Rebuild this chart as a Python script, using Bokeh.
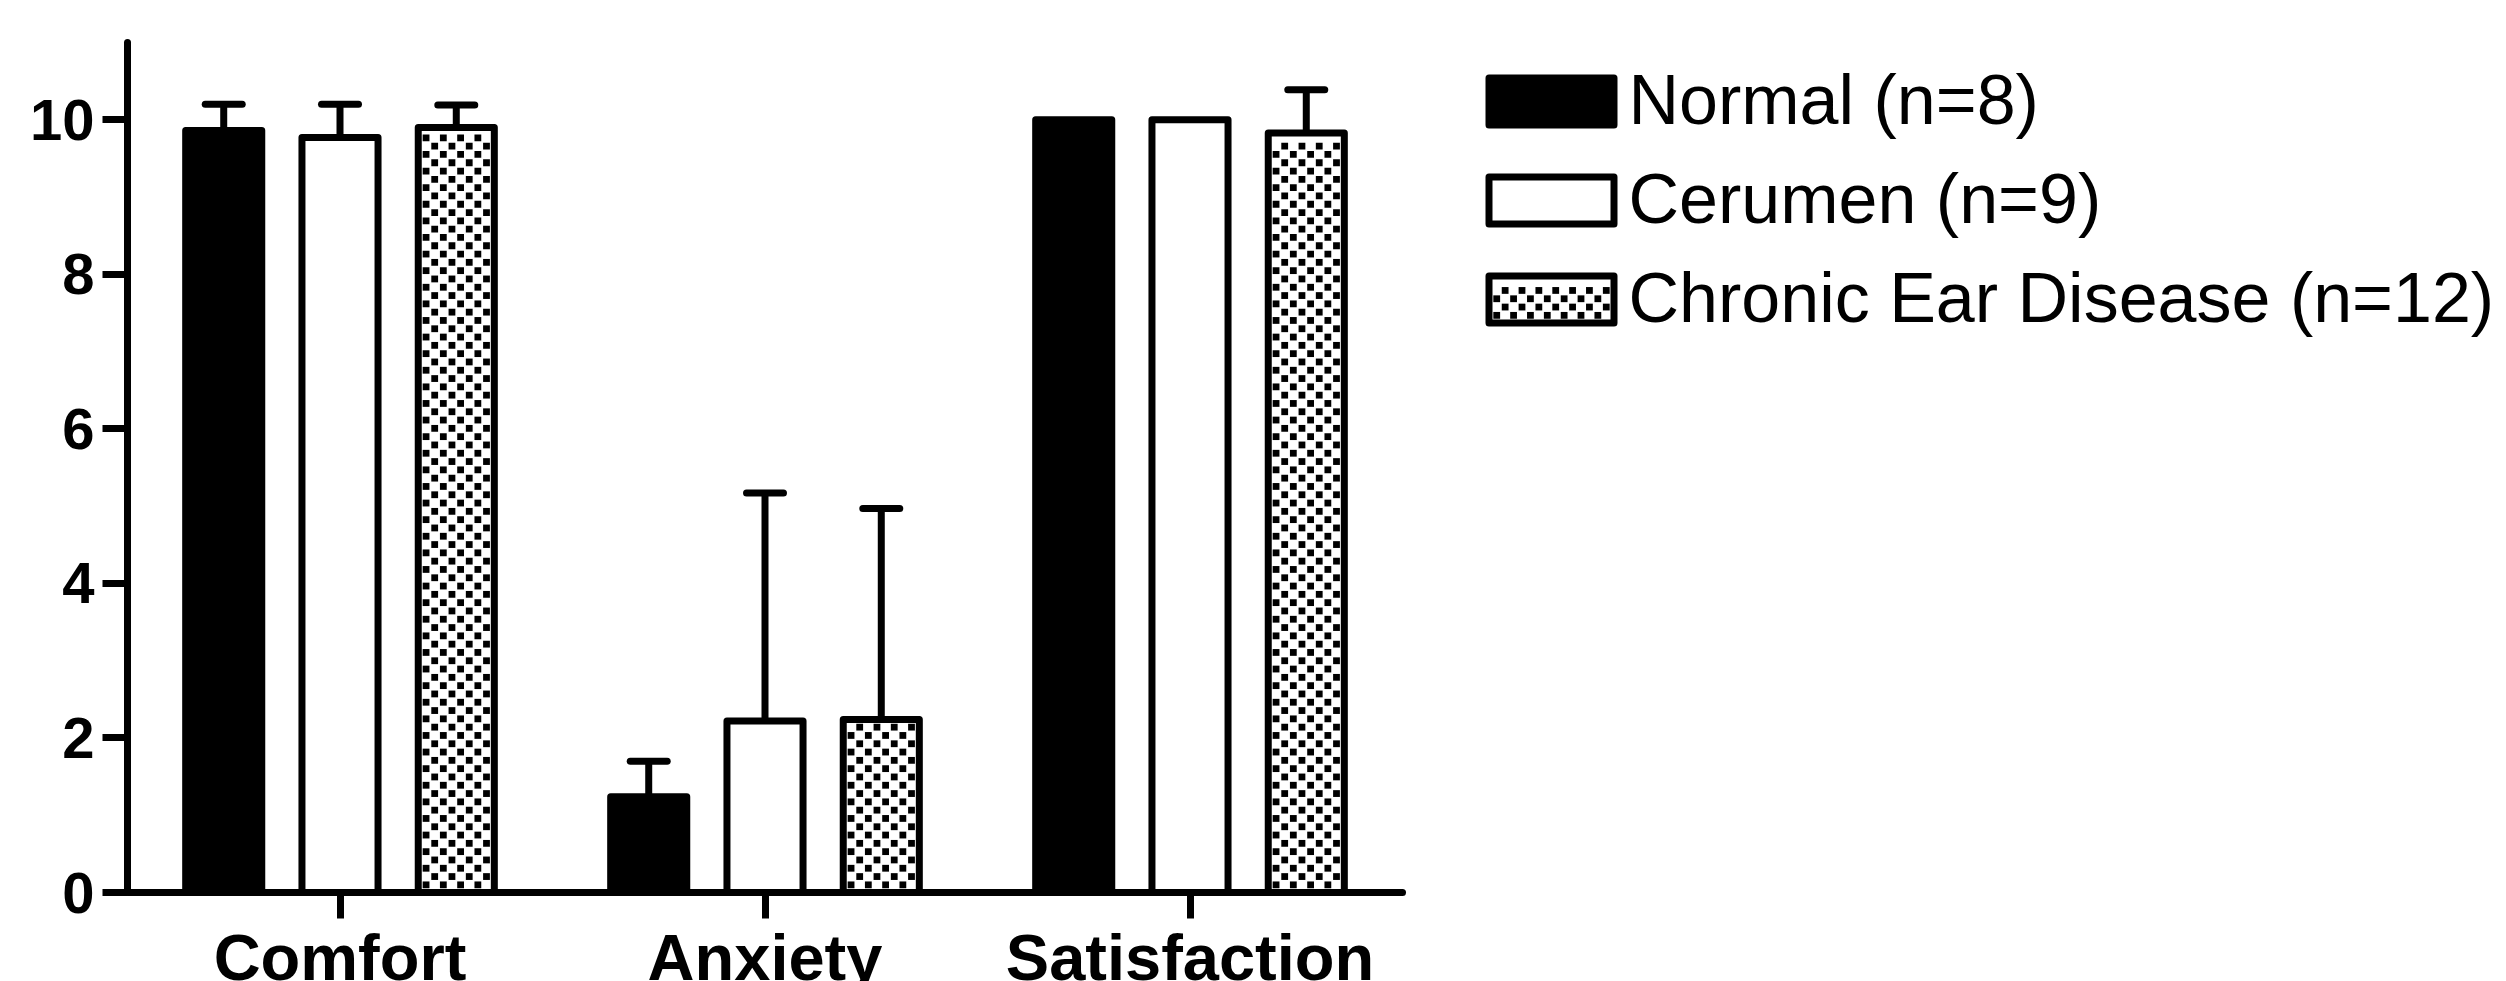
from bokeh.plotting import figure
from bokeh.models import Range1d, FixedTicker, ColumnDataSource
from bokeh.core.properties import value
from bokeh.embed import file_html
from bokeh.resources import INLINE

# ---------------- data ----------------
categories = ["Comfort", "Anxiety", "Satisfaction"]
series_names = ["Normal (n=8)", "Cerumen (n=9)", "Chronic Ear Disease (n=12)"]
normal = [9.86, 1.24, 10.0]
normal_err = [0.34, 0.46, 0.0]
cerumen = [9.77, 2.22, 10.0]
cerumen_err = [0.43, 2.95, 0.0]
chronic = [9.90, 2.24, 9.83]
chronic_err = [0.29, 2.73, 0.56]
y_ticks = [0, 2, 4, 6, 8, 10]

# ---------------- layout / style constants (pixels) ----------------
W, H = 2506, 981
FRAME_LEFT, FRAME_TOP = 127, 42
PX_X = 425.0              # pixels per category
Y_MAX = 11.0
PX_Y = 850.0 / Y_MAX      # pixels per y unit
OFFSET = 0.2736           # dodge between bars in a group (category units)
BAR_W = 0.179
CAP_W = 0.087
LW = 7
FONT = "Liberation Sans"
CELL, SQ = 8.3, 6.8       # checker cell and square size
# legend layout
LEG_BOX_L, LEG_BOX_R, LEG_BOX_H = 1488.5, 1613.5, 47
LEG_ROW0, LEG_ROW_STEP = 101, 99
LEG_TEXT_X = 1628
LEG_TEXT_DY = -2

Y0_PX = FRAME_TOP + Y_MAX * PX_Y


def dx(px):
    return -0.5 + (px - FRAME_LEFT) / PX_X


def dy(py):
    return (Y0_PX - py) / PX_Y


def px_x(x):
    return FRAME_LEFT + (x + 0.5) * PX_X


def px_y(y):
    return Y0_PX - y * PX_Y


p = figure(width=W, height=H, output_backend="svg", toolbar_location=None,
           x_range=Range1d(-0.5, dx(W)), y_range=Range1d(dy(H), Y_MAX),
           min_border_left=FRAME_LEFT, min_border_right=0,
           min_border_top=FRAME_TOP, min_border_bottom=0)
p.outline_line_color = None
p.xgrid.grid_line_color = None
p.ygrid.grid_line_color = None
p.background_fill_color = "white"
p.border_fill_color = "white"


def checker_cells(left, right, top, bottom):
    """centres (pixels) of the black squares of a checker fill of a box"""
    ncols = max(1, round((right - left) / CELL))
    cw = (right - left) / ncols
    nrows = max(1, int((bottom - top) / CELL))
    xs, ys = [], []
    for r in range(nrows):
        for c in range(ncols):
            if (r + c) % 2 == 0:
                xs.append(left + (c + 0.5) * cw)
                ys.append(bottom - (r + 0.5) * CELL)
    return xs, ys


fills = ["black", "white", "white"]
series = [(normal, normal_err), (cerumen, cerumen_err), (chronic, chronic_err)]
chk_x, chk_y = [], []
for j, (vals, errs) in enumerate(series):
    xs = [i + (j - 1) * OFFSET for i in range(len(categories))]
    p.vbar(x=xs, top=vals, bottom=0, width=BAR_W, fill_color=fills[j],
           line_color="black", line_width=LW, line_join="round")
    if j == 2:
        for x, v in zip(xs, vals):
            half = BAR_W * PX_X / 2 - LW / 2
            cx, cy = checker_cells(px_x(x) - half, px_x(x) + half,
                                   px_y(v) + LW / 2, px_y(0) - LW / 2)
            chk_x += cx
            chk_y += cy
    ex = [x for x, e in zip(xs, errs) if e > 0]
    ey0 = [v for v, e in zip(vals, errs) if e > 0]
    ey1 = [v + e for v, e in zip(vals, errs) if e > 0]
    if ex:
        src = ColumnDataSource(dict(x=ex, y0=ey0, y1=ey1,
                                    xl=[x - CAP_W / 2 for x in ex],
                                    xr=[x + CAP_W / 2 for x in ex]))
        p.segment(x0="x", y0="y0", x1="x", y1="y1", source=src,
                  line_color="black", line_width=LW)
        p.segment(x0="xl", y0="y1", x1="xr", y1="y1", source=src,
                  line_color="black", line_width=LW, line_cap="round")

# ---------------- legend ----------------
rows = [LEG_ROW0 + k * LEG_ROW_STEP for k in range(len(series_names))]
p.quad(left=[dx(LEG_BOX_L)] * 3, right=[dx(LEG_BOX_R)] * 3,
       top=[dy(r - LEG_BOX_H / 2) for r in rows],
       bottom=[dy(r + LEG_BOX_H / 2) for r in rows],
       fill_color=fills, line_color="black", line_width=LW, line_join="round")
cx, cy = checker_cells(LEG_BOX_L + LW / 2, LEG_BOX_R - LW / 2,
                       rows[2] - LEG_BOX_H / 2 + LW / 2, rows[2] + LEG_BOX_H / 2 - LW / 2)
chk_x += cx
chk_y += cy
p.text(x=[dx(LEG_TEXT_X)] * 3, y=[dy(r + LEG_TEXT_DY) for r in rows], text=series_names,
       text_font=value(FONT), text_font_size=value("70px"), text_color="black",
       text_align="left", text_baseline="alphabetic")

p.rect(x=[dx(v) for v in chk_x], y=[dy(v) for v in chk_y],
       width=SQ / PX_X, height=SQ / PX_Y, fill_color="black", line_color=None)

# ---------------- axes ----------------
for ax in (p.xaxis[0], p.yaxis[0]):
    ax.axis_line_width = LW
    ax.axis_line_color = "black"
    ax.axis_line_cap = "round"
    ax.major_tick_line_width = LW
    ax.major_tick_line_color = "black"
    ax.minor_tick_line_color = None
    ax.major_tick_in = 0

p.yaxis.ticker = FixedTicker(ticks=y_ticks)
p.yaxis.bounds = (0, Y_MAX)
p.yaxis.major_tick_out = 25
p.yaxis.major_label_standoff = 8
p.yaxis.major_label_text_font = FONT
p.yaxis.major_label_text_font_style = "bold"
p.yaxis.major_label_text_font_size = "58px"
p.yaxis.major_label_text_color = "black"

p.xaxis.fixed_location = 0
p.xaxis.bounds = (-0.5, len(categories) - 0.5)
p.xaxis.ticker = FixedTicker(ticks=list(range(len(categories))))
p.xaxis.major_label_overrides = {i: c for i, c in enumerate(categories)}
p.xaxis.major_tick_out = 26
p.xaxis.major_label_standoff = 2
p.xaxis.major_label_text_font = FONT
p.xaxis.major_label_text_font_style = "bold"
p.xaxis.major_label_text_font_size = "65px"
p.xaxis.major_label_text_color = "black"

open("out.html", "w").write(file_html(p, INLINE))
